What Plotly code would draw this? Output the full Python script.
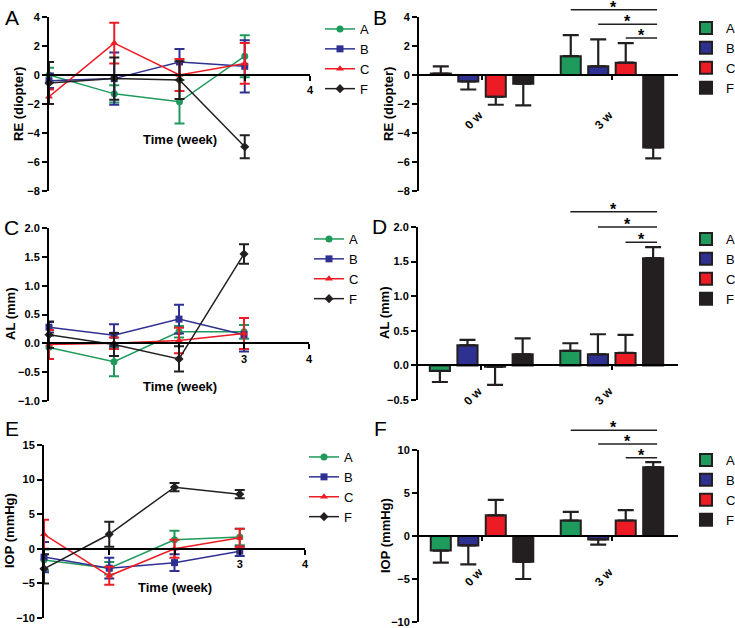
import plotly.graph_objects as go

W, H = 735, 628
FONT = "Liberation Sans, Arial, sans-serif"

# ---- data -------------------------------------------------------------
groups = ["A", "B", "C", "F"]
colors = {"A": "#1e9a5c", "B": "#2e3192", "C": "#ed1c24", "F": "#231f20"}
symbols = {"A": "circle", "B": "square", "C": "triangle-up", "F": "diamond"}

weeks = [0, 1, 2, 3]

# RE (diopter) over time, mean and error
re_mean = {"A": [0.0, -1.3, -1.85, 1.3],
           "B": [-0.4, -0.25, 0.9, 0.6],
           "C": [-1.5, 2.2, 0.0, 0.8],
           "F": [-0.55, -0.25, -0.35, -4.95]}
re_err = {"A": [0.5, 0.6, 1.5, 1.45],
          "B": [0.5, 1.8, 0.9, 1.8],
          "C": [0.5, 1.4, 1.1, 1.4],
          "F": [1.45, 1.45, 1.3, 0.8]}

# AL (mm) over time
al_mean = {"A": [-0.07, -0.32, 0.2, 0.2],
           "B": [0.28, 0.14, 0.42, 0.15],
           "C": [-0.02, 0.0, 0.05, 0.17],
           "F": [0.15, -0.02, -0.27, 1.55]}
al_err = {"A": [0.2, 0.25, 0.1, 0.12],
          "B": [0.09, 0.19, 0.25, 0.29],
          "C": [0.25, 0.1, 0.22, 0.27],
          "F": [0.23, 0.2, 0.22, 0.17]}

# IOP (mmHg) over time
iop_mean = {"A": [-1.6, -2.8, 1.3, 1.7],
            "B": [-1.2, -2.8, -2.0, -0.35],
            "C": [2.1, -3.9, 0.0, 1.6],
            "F": [-2.9, 2.1, 8.9, 7.9]}
iop_err = {"A": [1.5, 0.9, 1.3, 1.2],
           "B": [2.2, 1.5, 1.2, 0.7],
           "C": [2.1, 1.3, 1.3, 1.3],
           "F": [2.1, 1.8, 0.6, 0.6]}

# bar panels: [0 w, 3 w]
periods = ["0 w", "3 w"]
re_bar = {"A": [0.1, 1.3], "B": [-0.45, 0.6], "C": [-1.5, 0.85], "F": [-0.6, -5.0]}
re_bar_err = {"A": [0.5, 1.45], "B": [0.55, 1.85], "C": [0.55, 1.35], "F": [1.5, 0.75]}
al_bar = {"A": [-0.08, 0.21], "B": [0.29, 0.16], "C": [-0.02, 0.18], "F": [0.16, 1.55]}
al_bar_err = {"A": [0.16, 0.11], "B": [0.08, 0.29], "C": [0.26, 0.26], "F": [0.23, 0.16]}
iop_bar = {"A": [-1.7, 1.8], "B": [-1.1, -0.4], "C": [2.4, 1.8], "F": [-3.0, 8.0]}
iop_bar_err = {"A": [1.4, 1.0], "B": [2.2, 0.6], "C": [1.8, 1.2], "F": [2.0, 0.6]}

# significance comparisons at 3 w (group vs F) and bracket heights
comparisons = [("A", "F"), ("B", "F"), ("C", "F")]
re_sig_y = [4.5, 3.5, 2.55]
al_sig_y = [2.22, 2.0, 1.78]
iop_sig_y = [12.3, 10.7, 9.1]

# ---- layout helpers ---------------------------------------------------
def fx(p):
    return p / W


def fy(p):
    return 1 - p / H


def ax_id(i):
    return "" if i == 1 else str(i)


# pixel boxes: left, right, top, bottom
panels = {
    1: dict(box=(49, 310, 17, 191), yr=[-8, 4], dt=2),
    2: dict(box=(419, 678, 17, 191), yr=[-8, 4], dt=2),
    3: dict(box=(49, 309, 228, 401), yr=[-1, 2], dt=0.5),
    4: dict(box=(418, 678, 227, 400), yr=[-0.5, 2], dt=0.5),
    5: dict(box=(44, 305, 445, 618), yr=[-10, 15], dt=5),
    6: dict(box=(419, 678, 450, 622), yr=[-10, 10], dt=5),
}


def val_to_paper(i, v):
    l, r, t, b = panels[i]["box"]
    lo, hi = panels[i]["yr"]
    return fy(b) + (v - lo) / (hi - lo) * (fy(t) - fy(b))


BARGAP = 0.154
BARGROUPGAP = 0.27
slot = (1 - BARGAP) / len(groups)

fig = go.Figure()

# ---- line panels ------------------------------------------------------
line_sets = [(1, re_mean, re_err), (3, al_mean, al_err), (5, iop_mean, iop_err)]
for i, mean, err in line_sets:
    for g in groups:
        fig.add_trace(go.Scatter(
            x=weeks, y=mean[g], name=g, mode="lines+markers",
            line=dict(color=colors[g], width=1.5),
            marker=dict(symbol=symbols[g], size=7, color=colors[g]),
            error_y=dict(type="data", array=err[g], color=colors[g], thickness=2, width=5),
            xaxis="x" + ax_id(i), yaxis="y" + ax_id(i), legend="legend" + ax_id(i),
            cliponaxis=False,
        ))

# ---- bar panels -------------------------------------------------------
bar_sets = [(2, re_bar, re_bar_err), (4, al_bar, al_bar_err), (6, iop_bar, iop_bar_err)]
for i, vals, errs in bar_sets:
    for g in groups:
        plus = [e if v >= 0 else 0 for v, e in zip(vals[g], errs[g])]
        minus = [e if v < 0 else 0 for v, e in zip(vals[g], errs[g])]
        fig.add_trace(go.Bar(
            x=periods, y=vals[g], name=g,
            marker=dict(color=colors[g], line=dict(color="#231f20", width=2)),
            error_y=dict(type="data", symmetric=False, array=plus, arrayminus=minus,
                         color="#231f20", thickness=2.2, width=8),
            xaxis="x" + ax_id(i), yaxis="y" + ax_id(i), legend="legend" + ax_id(i),
            cliponaxis=False,
        ))

axis_font = dict(family=FONT, size=11, color="black", weight="bold")
layout = dict(
    width=W, height=H, margin=dict(l=0, r=0, t=0, b=0, autoexpand=False),
    paper_bgcolor="white", plot_bgcolor="rgba(0,0,0,0)",
    font=dict(family=FONT, color="black"),
    barmode="group", bargap=BARGAP, bargroupgap=BARGROUPGAP,
    annotations=[], shapes=[],
)

xtick_text = {1: ["", "", "", "", "4"], 3: ["", "", "", "3", "4"], 5: ["", "", "", "3", "4"]}

for i, p in panels.items():
    l, r, t, b = p["box"]
    lo, hi = p["yr"]
    zero_pos = val_to_paper(i, 0)
    xa = dict(domain=[fx(l), fx(r)], anchor="free", position=zero_pos,
              showline=True, linecolor="black", linewidth=2,
              ticks="outside", ticklen=5, tickwidth=2, tickcolor="black",
              showgrid=False, zeroline=False, tickfont=axis_font)
    if i % 2 == 1:
        xa.update(range=[0, 4], tickvals=[0, 1, 2, 3, 4], ticktext=xtick_text[i])
    else:
        xa.update(type="category", categoryarray=periods, range=[-0.485, 1.508],
                  showticklabels=False, ticklen=4)
    ticks = []
    v = lo
    while v <= hi + 1e-9:
        ticks.append(round(v, 3))
        v += p["dt"]
    fmt = ".1f" if p["dt"] < 1 else "d"
    ya = dict(domain=[fy(b), fy(t)], range=[lo, hi], anchor="x" + ax_id(i),
              showline=True, linecolor="black", linewidth=2,
              ticks="outside", ticklen=5, tickwidth=2, tickcolor="black",
              tickvals=ticks, tickformat=fmt, showgrid=False, zeroline=False,
              tickfont=axis_font)
    layout["xaxis" + ax_id(i)] = xa
    layout["yaxis" + ax_id(i)] = ya

# legends (top-left corner in pixels)
leg_pos = {1: (320, 14), 2: (686, 13), 3: (309, 224), 4: (686, 224),
           5: (304, 442), 6: (686, 445)}
for i, (lx, ly) in leg_pos.items():
    layout["legend" + ax_id(i)] = dict(x=fx(lx), y=fy(ly), xanchor="left", yanchor="top",
                                       bgcolor="rgba(0,0,0,0)", font=dict(family=FONT, size=13),
                                       tracegroupgap=0, itemclick=False)

ann = layout["annotations"]


def text_at(txt, px, py, size, bold=False, angle=0):
    ann.append(dict(text=txt, x=fx(px), y=fy(py), xref="paper", yref="paper",
                    xanchor="center", yanchor="middle", textangle=angle, showarrow=False,
                    font=dict(size=size, family=FONT, weight="bold" if bold else "normal")))


# panel letters
for letter, (lx, ly) in zip("ABCDEF", [(12, 17), (380, 17), (11, 228), (379, 227), (12, 428), (380, 428)]):
    text_at(letter, lx, ly, 21)

# y titles
for txt, (lx, ly) in zip(["RE (diopter)", "RE (diopter)", "AL (mm)", "AL (mm)", "IOP (mmHg)", "IOP (mmHg)"],
                         [(19, 104), (389, 104), (10, 314), (385, 313), (9, 531), (385, 536)]):
    text_at(txt, lx, ly, 13, bold=True, angle=-90)

# x titles in line panels
for lx, ly in [(180, 139), (180, 386), (175, 587)]:
    text_at("Time (week)", lx, ly, 13, bold=True)

# rotated category labels in bar panels
for i, ly in [(2, 120), (4, 396), (6, 577)]:
    for k, per in enumerate(periods):
        ann.append(dict(text=per, x=k, y=fy(ly), xref="x" + ax_id(i), yref="paper", xshift=-8,
                        xanchor="center", yanchor="middle", textangle=-45, showarrow=False,
                        font=dict(size=12, family=FONT, weight="bold")))

# significance brackets
for i, heights in [(2, re_sig_y), (4, al_sig_y), (6, iop_sig_y)]:
    for (g1, g2), h in zip(comparisons, heights):
        x0 = 1 + (groups.index(g1) - 1.5) * slot
        x1 = 1 + (groups.index(g2) - 1.5) * slot + 0.03
        yp = val_to_paper(i, h)
        layout["shapes"].append(dict(type="line", xref="x" + ax_id(i), yref="paper",
                                     x0=x0, x1=x1, y0=yp, y1=yp,
                                     line=dict(color="#231f20", width=1.5)))
        ann.append(dict(text="*", x=(x0 + x1) / 2, y=yp, xref="x" + ax_id(i), yref="paper",
                        xanchor="center", yanchor="bottom", yshift=-8, showarrow=False,
                        font=dict(size=16, family=FONT, weight="bold")))

fig.update_layout(**layout)
fig.write_html("out.html", config={"displayModeBar": False},
               post_script="document.body.style.margin='0';")
